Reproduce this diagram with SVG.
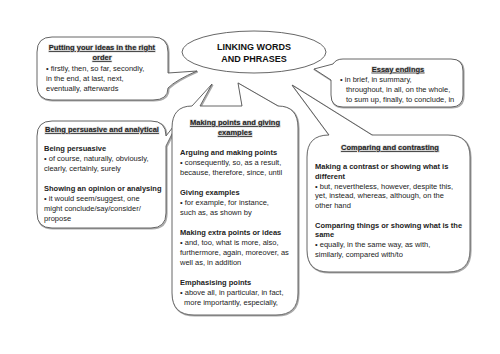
<svg xmlns="http://www.w3.org/2000/svg" width="500" height="354" viewBox="0 0 500 354">
<style>
.box{fill:#fff;stroke:#555;stroke-width:0.9}
.sh{fill:none;stroke:#aaa;stroke-width:1.6}
text{font-family:"Liberation Sans",Arial,sans-serif;font-size:7.5px;fill:#222}
.h{font-weight:bold;text-decoration:underline;text-anchor:middle;paint-order:stroke;stroke:#ccc;stroke-width:1.2px}
.b{font-weight:bold}
.t{font-weight:bold;font-size:9px;text-anchor:middle;fill:#111}
</style>
<rect width="500" height="354" fill="#fff"/>
<g id="node-putting">
<path class="sh" transform="translate(0.8,0.8)" d="M52,37 H153 Q168,37 168,52 V73 L197,71 Q176,80 168,88 Q168,100 153,100 H52 Q37,100 37,85 V52 Q37,37 52,37 Z"/>
<path class="box" d="M52,37 H153 Q168,37 168,52 V73 L197,71 Q176,80 168,88 Q168,100 153,100 H52 Q37,100 37,85 V52 Q37,37 52,37 Z"/>
<text class="h" x="102" y="50">Putting your ideas in the right</text>
<text class="h" x="102" y="60">order</text>
<text x="46" y="70.5">• firstly, then, so far, secondly,</text>
<text x="46" y="80.5">in the end, at last, next,</text>
<text x="46" y="90.5">eventually, afterwards</text>
</g>
<g id="node-title">
<ellipse cx="254" cy="52" rx="72" ry="21" fill="#fff" stroke="#555" stroke-width="0.9"/>
<text class="t" x="254" y="50">LINKING WORDS</text>
<text class="t" x="254" y="62">AND PHRASES</text>
</g>
<g id="node-essay">
<path class="sh" transform="translate(0.8,0.8)" d="M343,59 H451 Q463,59 463,71 V95 Q463,107 451,107 H343 Q331,107 331,95 V80 L314,69 L333,64 Q336,59 343,59 Z"/>
<path class="box" d="M343,59 H451 Q463,59 463,71 V95 Q463,107 451,107 H343 Q331,107 331,95 V80 L314,69 L333,64 Q336,59 343,59 Z"/>
<text class="h" x="398" y="71.5">Essay endings</text>
<text x="340" y="82">• in brief, in summary,</text>
<text x="346" y="92">throughout, in all, on the whole,</text>
<text x="346" y="102">to sum up, finally, to conclude, in</text>
</g>
<g id="node-persuasive">
<path class="sh" transform="translate(0.8,0.8)" d="M52,121 H151 Q166,121 166,136 L180,118 L166,146 V213 Q166,228 151,228 H52 Q37,228 37,213 V136 Q37,121 52,121 Z"/>
<path class="box" d="M52,121 H151 Q166,121 166,136 L180,118 L166,146 V213 Q166,228 151,228 H52 Q37,228 37,213 V136 Q37,121 52,121 Z"/>
<text class="h" x="102" y="132">Being persuasive and analytical</text>
<text class="b" x="44" y="151">Being persuasive</text>
<text x="44" y="161">• of course, naturally, obviously,</text>
<text x="44" y="171">clearly, certainly, surely</text>
<text class="b" x="44" y="191">Showing an opinion or analysing</text>
<text x="44" y="201">• it would seem/suggest, one</text>
<text x="44" y="211">might conclude/say/consider/</text>
<text x="44" y="221">propose</text>
</g>
<g id="node-points">
<path class="sh" transform="translate(0.8,0.8)" d="M172,128 Q172,106 192,106 L212,84 L200,106 L242,106 L238,83 L278,106 Q298,106 298,128 V293 Q298,315 276,315 H194 Q172,315 172,293 Z"/>
<path class="box" d="M172,128 Q172,106 192,106 L212,84 L200,106 L242,106 L238,83 L278,106 Q298,106 298,128 V293 Q298,315 276,315 H194 Q172,315 172,293 Z"/>
<text class="h" x="235" y="125">Making points and giving</text>
<text class="h" x="235" y="135">examples</text>
<text class="b" x="180" y="155">Arguing and making points</text>
<text x="180" y="165">• consequently, so, as a result,</text>
<text x="180" y="175">because, therefore, since, until</text>
<text class="b" x="180" y="195">Giving examples</text>
<text x="180" y="205">• for example, for instance,</text>
<text x="180" y="215">such as, as shown by</text>
<text class="b" x="180" y="235">Making extra points or ideas</text>
<text x="180" y="245">• and, too, what is more, also,</text>
<text x="180" y="255">furthermore, again, moreover, as</text>
<text x="180" y="265">well as, in addition</text>
<text class="b" x="180" y="285">Emphasising points</text>
<text x="180" y="295">• above all, in particular, in fact,</text>
<text x="184" y="305">more importantly, especially,</text>
</g>
<g id="node-comparing">
<path class="sh" transform="translate(0.8,0.8)" d="M307,157 Q307,135 329,135 L292,85 L372,135 H448 Q470,135 470,157 V250 Q470,272 448,272 H329 Q307,272 307,250 Z"/>
<path class="box" d="M307,157 Q307,135 329,135 L292,85 L372,135 H448 Q470,135 470,157 V250 Q470,272 448,272 H329 Q307,272 307,250 Z"/>
<text class="h" x="390" y="150">Comparing and contrasting</text>
<text class="b" x="315" y="169">Making a contrast or showing what is</text>
<text class="b" x="315" y="178.5">different</text>
<text x="315" y="188.5">• but, nevertheless, however, despite this,</text>
<text x="315" y="198">yet, instead, whereas, although, on the</text>
<text x="315" y="207.5">other hand</text>
<text class="b" x="315" y="227.5">Comparing things or showing what is the</text>
<text class="b" x="315" y="237">same</text>
<text x="315" y="247">• equally, in the same way, as with,</text>
<text x="315" y="256.5">similarly, compared with/to</text>
</g>
</svg>
